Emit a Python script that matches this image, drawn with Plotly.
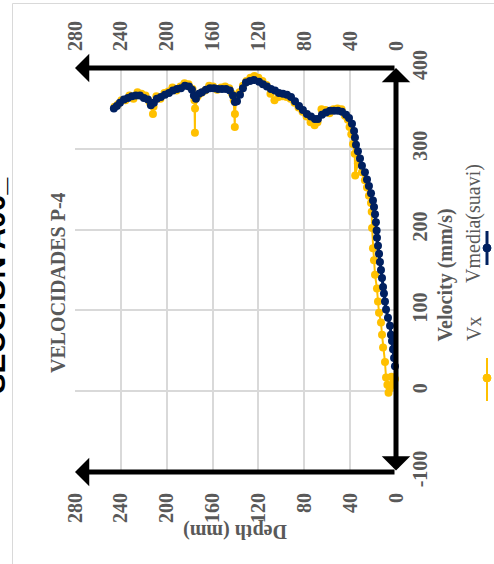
import plotly.graph_objects as go

# ---- data: depth (mm) vs velocity (mm/s) ----
depth_vmedia = [0.9, 1.7, 2.6, 3.5, 4.4, 5.2, 7.0, 8.7, 9.6, 10.5, 11.3, 12.2, 13.1, 14.0, 14.8,
                15.7, 16.6, 16.9, 17.5, 18.3, 19.2, 20.1, 21.8, 23.6, 25.3, 27.1, 29.7, 31.4, 33.2,
                34.9, 35.8, 36.6, 38.4, 41.0, 43.6, 47.1, 50.6, 54.1, 57.6, 61.1, 64.6, 68.1, 70.7,
                74.2, 77.7, 81.2, 84.6, 88.1, 91.6, 95.1, 98.6, 102.1, 105.6, 109.1, 112.6, 116.1,
                119.5, 123.9, 127.4, 130.9, 133.5, 136.1, 138.7, 140.5, 142.2, 144.9, 148.3, 151.8,
                155.3, 158.8, 162.3, 165.8, 169.3, 171.9, 174.5, 176.3, 178.0, 180.6, 184.1, 187.6,
                191.1, 194.6, 198.1, 201.6, 205.1, 208.6, 211.2, 213.8, 216.4, 219.9, 223.4, 226.9,
                230.4, 233.9, 237.3, 240.8, 243.5, 246.1]
vel_vmedia = [31, 41, 52, 62, 70, 81, 91, 101, 111, 121, 129, 140, 150, 160, 170,
              180, 190, 199, 209, 219, 228, 236, 245, 254, 262, 271, 279, 288, 297,
              305, 314, 322, 331, 338, 342, 346, 347, 347, 347, 345, 342, 337, 337,
              340, 343, 348, 353, 359, 364, 367, 368, 369, 372, 374, 377, 380,
              383, 385, 384, 382, 375, 367, 359, 358, 366, 372, 374, 374,
              374, 375, 375, 373, 370, 368, 362, 366, 373, 377, 378, 375,
              374, 372, 369, 367, 364, 362, 357, 354, 361, 363, 366, 366,
              365, 363, 361, 357, 353, 350]

depth_vx = [0.9, 2.5, 4.0, 5.5, 6.5, 7.5, 8.7, 9.6, 11.3, 12.2, 13.1, 14.8, 15.7, 16.6, 18.3,
            19.2, 20.1, 20.9, 21.2, 21.8, 23.6, 25.3, 27.1, 29.7, 33.2, 35.6, 36.0, 37.5, 39.0,
            40.5, 42.0, 44.5, 47.5, 51.0, 54.5, 58.0, 61.5, 65.0, 68.5, 71.0, 74.5, 78.0, 81.5,
            85.0, 88.5, 92.0, 95.5, 99.0, 102.5, 106.0, 109.5, 113.0, 116.5, 120.0, 123.5, 127.0,
            130.5, 133.5, 136.5, 139.5, 140.5, 140.6, 141.5, 143.0, 145.5, 149.0, 152.5, 156.0,
            159.5, 163.0, 166.5, 170.0, 173.0, 175.3, 175.4, 175.8, 177.5, 181.0, 184.5, 188.0,
            191.5, 195.0, 198.5, 202.0, 205.5, 209.0, 211.5, 212.0, 213.5, 215.0, 218.5, 222.0,
            225.5, 229.0, 232.5, 236.0, 239.5, 242.5, 245.5]
vel_vx = [15, 8, 18, 3, -2, 8, 17, 36, 54, 70, 85, 97, 111, 127, 144,
          162, 177, 202, 222, 233, 242, 252, 261, 271, 282, 267, 294, 306, 318,
          327, 336, 341, 349, 350, 349, 344, 348, 349, 333, 329, 333, 340, 346,
          351, 357, 362, 364, 365, 364, 360, 368, 379, 384, 388, 390, 388,
          384, 378, 370, 360, 343, 327, 360, 368, 375, 377, 376, 373,
          377, 378, 372, 369, 365, 350, 320, 360, 374, 380, 381, 377,
          372, 376, 371, 369, 362, 365, 352, 343, 355, 358, 366, 368,
          370, 362, 366, 360, 360, 355, 352]

depth_ticks = [0, 40, 80, 120, 160, 200, 240, 280]
vel_ticks = [-100, 0, 100, 200, 300, 400]
vel_ticktext = ["-100", "0", "100", "200", "300", "400"]

GOLD = "#FFC000"
NAVY = "#002060"
GREY = "#595959"
GRID = "#D9D9D9"
SERIF = "Liberation Serif"

# pixel geometry of the plotting area
W_FIG, H_FIG = 494, 564
L, R, T, B = 75, 396, 68, 472


def px(x):
    return (x - L) / (R - L)


def py(y):
    return (B - y) / (B - T)


fig = go.Figure()

fig.add_trace(go.Scatter(
    x=depth_vx, y=vel_vx, mode="lines+markers", name="Vx",
    line=dict(color=GOLD, width=2), marker=dict(size=8, color=GOLD),
    cliponaxis=False, showlegend=False, hoverinfo="skip"))
fig.add_trace(go.Scatter(
    x=depth_vmedia, y=vel_vmedia, mode="lines+markers", name="Vmedia(suavi)",
    line=dict(color=NAVY, width=3), marker=dict(size=8, color=NAVY),
    cliponaxis=False, showlegend=False, hoverinfo="skip"))
# carrier for the mirrored depth axis along the top
fig.add_trace(go.Scatter(
    x=[depth_ticks[0], depth_ticks[-1]], y=[vel_ticks[0], vel_ticks[0]], xaxis="x2",
    mode="markers", marker=dict(opacity=0), showlegend=False, hoverinfo="skip"))

tickfont = dict(family=SERIF, size=20, color=GREY, weight="bold")

fig.update_layout(
    width=W_FIG, height=H_FIG,
    margin=dict(l=L, r=W_FIG - R, t=T, b=H_FIG - B),
    paper_bgcolor="white", plot_bgcolor="white",
    showlegend=False,
    xaxis=dict(range=[depth_ticks[-1], depth_ticks[0]], tickvals=depth_ticks,
               tickangle=-90, tickfont=tickfont, ticklabelstandoff=16,
               showgrid=True, gridcolor=GRID, gridwidth=1.5,
               zeroline=False, showline=False, ticks=""),
    xaxis2=dict(range=[depth_ticks[-1], depth_ticks[0]], tickvals=depth_ticks,
                overlaying="x", side="top", anchor="y",
                tickangle=-90, tickfont=tickfont, ticklabelstandoff=16,
                showgrid=False, zeroline=False, showline=False, ticks=""),
    yaxis=dict(range=[vel_ticks[0], vel_ticks[-1]], tickvals=vel_ticks, ticktext=vel_ticktext,
               side="right", tickangle=-90, tickfont=tickfont, ticklabelstandoff=10,
               showgrid=True, gridcolor=GRID, gridwidth=1.5,
               zeroline=False, showline=False, ticks=""),
)

annotations = []
# axis arrows
arrow = dict(text="", showarrow=True, arrowhead=1, arrowsize=0.95, arrowwidth=5,
             arrowcolor="black", axref="x", ayref="y", xref="x", yref="y", standoff=0)
annotations.append(dict(arrow, x=depth_ticks[-1], y=vel_ticks[-1], ax=depth_ticks[0], ay=vel_ticks[-1]))
annotations.append(dict(arrow, x=depth_ticks[-1], y=vel_ticks[0], ax=depth_ticks[0], ay=vel_ticks[0]))
annotations.append(dict(arrow, x=depth_ticks[0], y=vel_ticks[-1], ax=depth_ticks[0], ay=vel_ticks[0],
                        arrowside="end+start", startarrowhead=1, startarrowsize=0.95))

# titles
annotations.append(dict(text="VELOCIDADES P-4", x=px(45), y=py(283), xref="paper", yref="paper",
                        showarrow=False, textangle=-90,
                        font=dict(family=SERIF, size=20, color=GREY, weight="bold")))
annotations.append(dict(text="Velocity (mm/s)", x=px(458), y=py(275), xref="paper", yref="paper",
                        showarrow=False, textangle=-90,
                        font=dict(family=SERIF, size=20, color=GREY, weight="bold")))
annotations.append(dict(text="Depth (mm)", x=px(235), y=py(545), xref="paper", yref="paper",
                        showarrow=False, textangle=180,
                        font=dict(family=SERIF, size=20, color=GREY, weight="bold")))
annotations.append(dict(text="SECCION A00_", x=px(-25), y=py(286), xref="paper", yref="paper",
                        showarrow=False, textangle=-90,
                        font=dict(family="Liberation Sans", size=30, color="black", weight="bold")))

# legend (rotated)
annotations.append(dict(text="Vx", x=px(487), y=py(329), xref="paper", yref="paper",
                        showarrow=False, textangle=-90,
                        font=dict(family=SERIF, size=20, color=GREY)))
annotations.append(dict(text="Vmedia(suavi)", x=px(487), y=py(162), xref="paper", yref="paper",
                        showarrow=False, textangle=-90,
                        font=dict(family=SERIF, size=20, color=GREY)))
fig.update_layout(annotations=annotations)

shapes = [
    # chart frame
    dict(type="rect", xref="paper", yref="paper", x0=px(12.5), y0=py(3.5), x1=px(900), y1=py(900),
         line=dict(color=GRID, width=1), fillcolor="rgba(0,0,0,0)", layer="below"),
    # legend keys
    dict(type="line", xref="paper", yref="paper", x0=px(487), x1=px(487), y0=py(358), y1=py(401),
         line=dict(color=GOLD, width=2)),
    dict(type="circle", xref="paper", yref="paper", xsizemode="pixel", ysizemode="pixel",
         xanchor=px(487), yanchor=py(378), x0=-4, x1=4, y0=-4, y1=4,
         fillcolor=GOLD, line=dict(color=GOLD, width=1)),
    dict(type="line", xref="paper", yref="paper", x0=px(487), x1=px(487), y0=py(231), y1=py(265),
         line=dict(color=NAVY, width=3)),
    dict(type="circle", xref="paper", yref="paper", xsizemode="pixel", ysizemode="pixel",
         xanchor=px(487), yanchor=py(248), x0=-4, x1=4, y0=-4, y1=4,
         fillcolor=NAVY, line=dict(color=NAVY, width=1)),
]
fig.update_layout(shapes=shapes)

fig.write_html("out.html")
